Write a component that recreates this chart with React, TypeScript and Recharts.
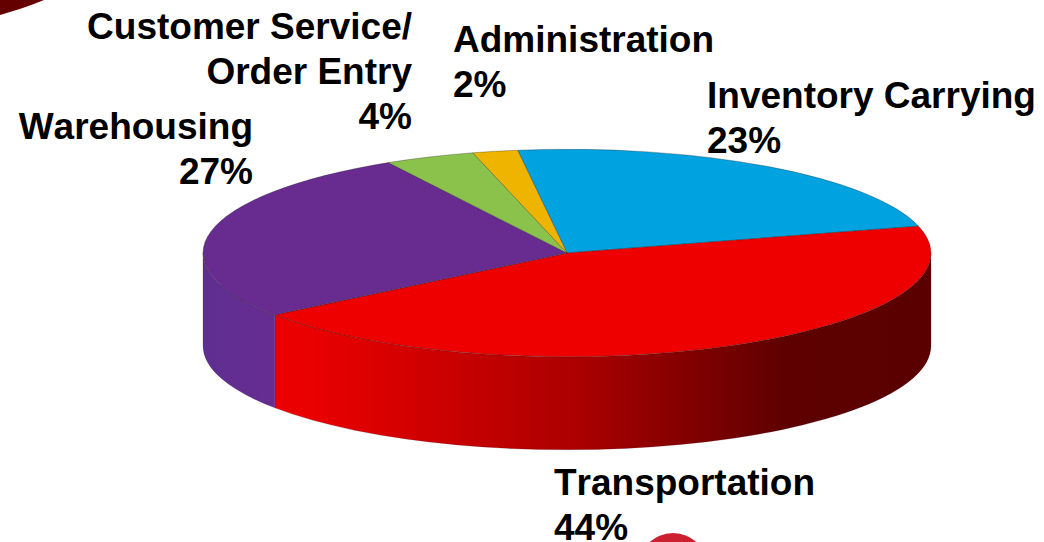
import { PieChart, Pie, Cell } from 'recharts'

const categories = ['Inventory Carrying', 'Transportation', 'Warehousing', 'Customer Service/\nOrder Entry', 'Administration']
const shares = [23, 44, 27, 4, 2]
const colors = ['#00a2e0', '#ee0000', '#682c91', '#8bc24c', '#eeb400']

const data = categories.map((name, i) => ({ name, value: shares[i] }))

// where each label goes, in the same order as the categories
const labelX = [707, 554, 253, 412, 453]
const labelY = [108, 495, 139, 39, 52]
const labelAnchor = ['start', 'start', 'end', 'end', 'start']

const SQUASH = 0.285
const DEPTH = 93
const LINE_HEIGHT = 44.8
const RAD = Math.PI / 180

function Slice(props: any) {
  const { cx, cy, outerRadius: rx, startAngle, endAngle, fill } = props
  const ry = rx * SQUASH
  const px = (a: number) => cx + rx * Math.cos(a * RAD)
  const py = (a: number) => cy - ry * Math.sin(a * RAD)
  const large = Math.abs(startAngle - endAngle) > 180 ? 1 : 0
  const top = `M${cx},${cy}L${px(startAngle)},${py(startAngle)}A${rx},${ry} 0 ${large} 1 ${px(endAngle)},${py(endAngle)}Z`

  // only the part of the rim facing us gets a wall
  const wallFrom = Math.min(startAngle, 0)
  const wallTo = Math.max(endAngle, -180)
  const hasWall = wallFrom > wallTo
  const wall = hasWall
    ? `M${px(wallFrom)},${py(wallFrom)}A${rx},${ry} 0 0 1 ${px(wallTo)},${py(wallTo)}` +
      `L${px(wallTo)},${py(wallTo) + DEPTH}A${rx},${ry} 0 0 0 ${px(wallFrom)},${py(wallFrom) + DEPTH}Z`
    : ''
  const id = `wall-${props.index ?? Math.round(startAngle)}`
  const isRed = fill === colors[1]

  return (
    <g>
      {hasWall && (
        <>
          <defs>
            <linearGradient id={id} gradientUnits="userSpaceOnUse" x1={203} x2={931} y1={0} y2={0}>
              {isRed ? (
                <>
                  <stop offset="0.147" stopColor="#ea0000" />
                  <stop offset="0.512" stopColor="#ac0000" />
                  <stop offset="0.8" stopColor="#5e0000" />
                  <stop offset="1" stopColor="#5a0000" />
                </>
              ) : (
                <>
                  <stop offset="0" stopColor="#5e2e90" />
                  <stop offset="0.1" stopColor="#682c91" />
                </>
              )}
            </linearGradient>
          </defs>
          <path d={wall} fill={`url(#${id})`} stroke="#2a1030" strokeOpacity={0.3} strokeWidth={0.6} />
        </>
      )}
      <path d={top} fill={fill} stroke="#1a1a1a" strokeOpacity={0.5} strokeWidth={0.6} />
    </g>
  )
}

function SliceLabel(props: any) {
  const { index, name, value } = props
  const lines = [...String(name).split('\n'), `${value}%`]
  return (
    <text
      x={labelX[index]}
      y={labelY[index]}
      textAnchor={labelAnchor[index] as any}
      fontFamily="'Liberation Sans', Arial, sans-serif"
      fontWeight="bold"
      fontSize={37}
      fill="#000"
      style={{ fontKerning: 'none' }}
    >
      {lines.map((line, i) => (
        <tspan key={i} x={labelX[index]} dy={i === 0 ? 0 : LINE_HEIGHT}>
          {line}
        </tspan>
      ))}
    </text>
  )
}

function App() {
  return (
    <div style={{ position: 'absolute', left: 0, top: 0, width: 1044, height: 542, background: '#fff', overflow: 'hidden' }}>
      <PieChart width={1044} height={542} margin={{ top: 0, right: 0, bottom: 0, left: 0 }}>
        <path d="M0,0H44C30,6 14,11 0,15Z" fill="#650000" />
        <circle cx={673} cy={568} r={35} fill="#cc2030" />
        <Pie
          data={data}
          dataKey="value"
          nameKey="name"
          cx={567}
          cy={253}
          outerRadius={364}
          startAngle={97.8}
          endAngle={-262.2}
          shape={Slice}
          label={SliceLabel}
          labelLine={false}
          isAnimationActive={false}
        >
          {data.map((d, i) => (
            <Cell key={d.name} fill={colors[i]} />
          ))}
        </Pie>
      </PieChart>
    </div>
  )
}

export default App
